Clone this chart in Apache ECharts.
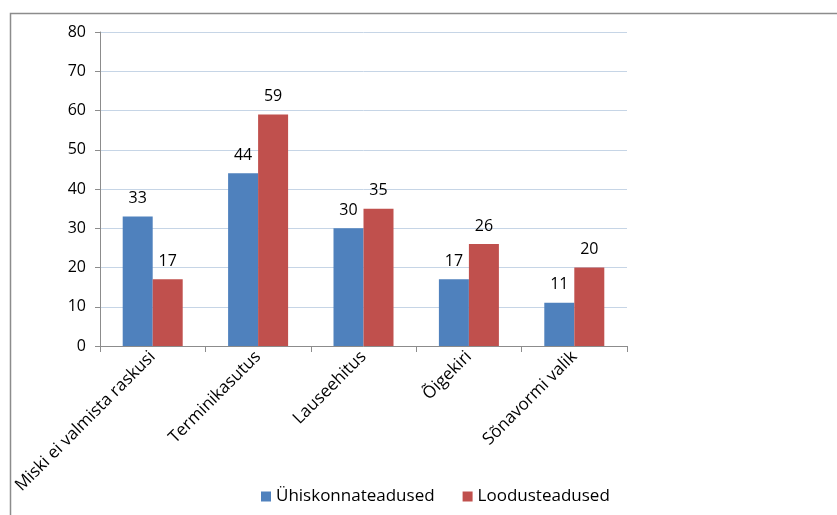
<!DOCTYPE html>
<html><head><meta charset="utf-8">
<script src="https://cdn.jsdelivr.net/npm/echarts@6/dist/echarts.min.js"></script>
<style>html,body{margin:0;padding:0;background:#fff}#c{width:837px;height:515px}</style>
</head><body><div id="c"></div>
<script>
const categories = ["Miski ei valmista raskusi", "Terminikasutus", "Lauseehitus", "Õigekiri", "Sõnavormi valik"];
const seriesNames = ["Ühiskonnateadused", "Loodusteadused"];
const social = [33, 44, 30, 17, 11];
const natural = [17, 59, 35, 26, 20];
const yTicks = [0, 10, 20, 30, 40, 50, 60, 70, 80];

const font = "Open Sans, Lato, sans-serif";
const chart = echarts.init(document.getElementById('c'), null, {renderer: 'canvas'});
chart.setOption({
  animation: false,
  textStyle: {fontFamily: font},
  graphic: [{
    type: 'rect', left: 8, top: 11, shape: {width: 840, height: 520},
    style: {fill: 'none', stroke: '#8c8c8c', lineWidth: 1.5}, silent: true
  }],
  grid: {left: 100, top: 32, width: 527, height: 314, containLabel: false},
  legend: {
    data: seriesNames, left: 256, top: 483, itemWidth: 10, itemHeight: 10, itemGap: 28,
    icon: 'rect', textStyle: {fontSize: 17, color: '#000', fontFamily: font}
  },
  xAxis: {
    type: 'category', data: categories,
    axisLine: {lineStyle: {color: '#8c8c8c', width: 1}},
    axisTick: {show: true, length: 6, lineStyle: {color: '#8c8c8c'}},
    axisLabel: {rotate: 45, fontSize: 17, color: '#000', margin: 8, interval: 0, fontFamily: font}
  },
  yAxis: {
    type: 'value', min: yTicks[0], max: yTicks[yTicks.length - 1], interval: 10,
    axisLine: {show: true, lineStyle: {color: '#8c8c8c', width: 1}},
    axisTick: {show: true, length: 5, lineStyle: {color: '#8c8c8c'}},
    axisLabel: {fontSize: 16, color: '#000', margin: 14, fontFamily: font},
    splitLine: {lineStyle: {color: '#c6d5e6', width: 1}}
  },
  series: [
    {name: seriesNames[0], type: 'bar', data: social, barWidth: 30, barGap: '0%',
     itemStyle: {color: '#4f81bd'},
     label: {show: true, position: 'top', distance: 10, fontSize: 16, color: '#000', fontFamily: font}},
    {name: seriesNames[1], type: 'bar', data: natural, barWidth: 30, barGap: '0%',
     itemStyle: {color: '#c0504d'},
     label: {show: true, position: 'top', distance: 10, fontSize: 16, color: '#000', fontFamily: font}}
  ]
});
</script></body></html>
